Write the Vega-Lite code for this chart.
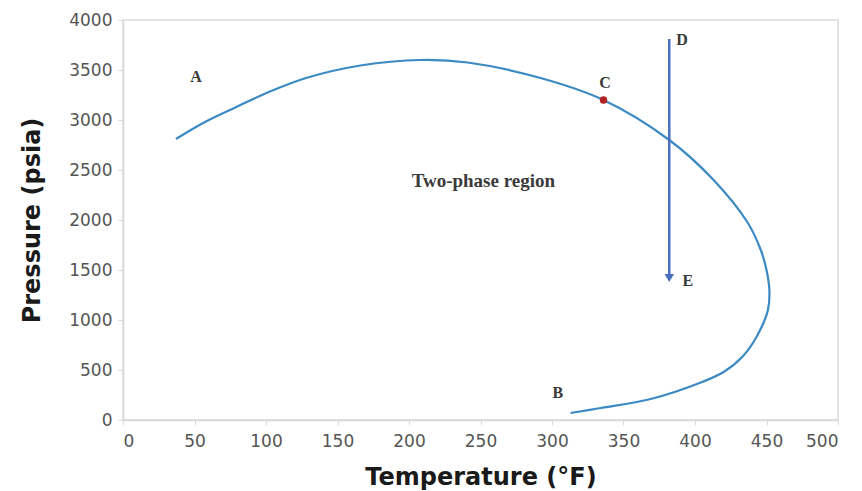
{
  "$schema": "https://vega.github.io/schema/vega-lite/v6.json",
  "width": 715,
  "height": 400,
  "autosize": {"type": "none"},
  "padding": {"left": 123, "top": 20, "right": 24, "bottom": 71},
  "background": "white",
  "config": {
    "view": {"stroke": "#D9D9D9", "strokeWidth": 1.5},
    "axis": {
      "grid": false,
      "domainColor": "#D9D9D9",
      "domainWidth": 1.5,
      "tickColor": "#D9D9D9",
      "tickSize": 5,
      "labelFont": "DejaVu Sans",
      "labelFontSize": 17,
      "labelColor": "#555555",
      "titleFont": "DejaVu Sans",
      "titleFontSize": 24,
      "titleFontWeight": "bold",
      "titleColor": "#1a1a1a",
      "format": "d"
    }
  },
  "datasets": {
    "curve": [
      {"order": 1, "t": 37, "p": 2810},
      {"order": 2, "t": 58, "p": 2985},
      {"order": 3, "t": 80, "p": 3135},
      {"order": 4, "t": 102, "p": 3280},
      {"order": 5, "t": 128, "p": 3420},
      {"order": 6, "t": 166, "p": 3545},
      {"order": 7, "t": 208, "p": 3600},
      {"order": 8, "t": 241, "p": 3575},
      {"order": 9, "t": 292, "p": 3420},
      {"order": 10, "t": 336, "p": 3200},
      {"order": 11, "t": 382, "p": 2800},
      {"order": 12, "t": 413, "p": 2400},
      {"order": 13, "t": 437, "p": 1970},
      {"order": 14, "t": 446, "p": 1700},
      {"order": 15, "t": 450, "p": 1500},
      {"order": 16, "t": 452, "p": 1300},
      {"order": 17, "t": 451, "p": 1100},
      {"order": 18, "t": 443, "p": 830},
      {"order": 19, "t": 433, "p": 630},
      {"order": 20, "t": 420, "p": 480},
      {"order": 21, "t": 405, "p": 380},
      {"order": 22, "t": 369, "p": 210},
      {"order": 23, "t": 334, "p": 120},
      {"order": 24, "t": 313, "p": 70}
    ],
    "arrow": [
      {"t": 382, "top": 3810, "bottom": 1420}
    ],
    "labels": [
      {"t": 51, "p": 3430, "text": "A"},
      {"t": 304, "p": 270, "text": "B"},
      {"t": 337, "p": 3370, "text": "C"},
      {"t": 391, "p": 3800, "text": "D"},
      {"t": 395, "p": 1390, "text": "E"}
    ]
  },
  "encoding": {},
  "layer": [
    {
      "data": {"name": "curve"},
      "mark": {"type": "line", "interpolate": "catmull-rom", "color": "#3B8AC4", "strokeWidth": 2.2},
      "encoding": {
        "x": {"field": "t", "type": "quantitative", "scale": {"domain": [0, 500], "nice": false}, "axis": {"values": [0, 50, 100, 150, 200, 250, 300, 350, 400, 450, 500], "title": "Temperature (°F)", "labelPadding": 8, "titlePadding": 16}},
        "y": {"field": "p", "type": "quantitative", "scale": {"domain": [0, 4000], "nice": false}, "axis": {"values": [0, 500, 1000, 1500, 2000, 2500, 3000, 3500, 4000], "title": "Pressure (psia)", "labelPadding": 6, "titlePadding": 24}},
        "order": {"field": "order", "type": "quantitative"}
      }
    },
    {
      "data": {"name": "arrow"},
      "mark": {"type": "rule", "color": "#4A6FBE", "strokeWidth": 2.5},
      "encoding": {
        "x": {"field": "t", "type": "quantitative"},
        "y": {"field": "top", "type": "quantitative"},
        "y2": {"field": "bottom"}
      }
    },
    {
      "data": {"name": "arrow"},
      "mark": {"type": "point", "shape": "triangle-down", "filled": true, "color": "#4A6FBE", "size": 90, "opacity": 1},
      "encoding": {
        "x": {"field": "t", "type": "quantitative"},
        "y": {"field": "bottom", "type": "quantitative"}
      }
    },
    {
      "data": {"values": [{"t": 336, "p": 3200}]},
      "mark": {"type": "point", "filled": true, "color": "#B22222", "size": 55, "opacity": 1},
      "encoding": {
        "x": {"field": "t", "type": "quantitative"},
        "y": {"field": "p", "type": "quantitative"}
      }
    },
    {
      "data": {"name": "labels"},
      "mark": {"type": "text", "font": "Liberation Serif", "fontSize": 16, "fontWeight": "bold", "color": "#3a3a3a", "align": "center", "baseline": "middle"},
      "encoding": {
        "x": {"field": "t", "type": "quantitative"},
        "y": {"field": "p", "type": "quantitative"},
        "text": {"field": "text"}
      }
    },
    {
      "data": {"values": [{"t": 252, "p": 2390, "text": "Two-phase region"}]},
      "mark": {"type": "text", "font": "Liberation Serif", "fontSize": 19, "fontWeight": "bold", "color": "#3a3a3a", "align": "center", "baseline": "middle"},
      "encoding": {
        "x": {"field": "t", "type": "quantitative"},
        "y": {"field": "p", "type": "quantitative"},
        "text": {"field": "text"}
      }
    }
  ]
}
